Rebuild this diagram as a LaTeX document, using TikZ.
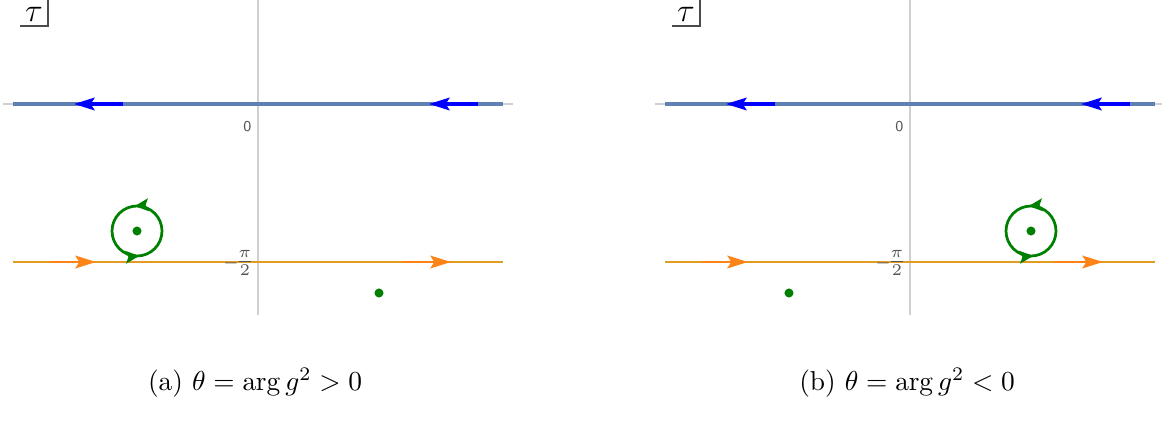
\documentclass[tikz,border=0pt]{standalone}
\usetikzlibrary{arrows.meta,decorations.markings}
\definecolor{axisgray}{HTML}{D0D0D0}
\definecolor{lineblue}{HTML}{5E81B5}
\definecolor{arrowblue}{HTML}{0000FF}
\definecolor{lineorange}{HTML}{E19C24}
\definecolor{arroworange}{HTML}{FF8418}
\definecolor{polegreen}{HTML}{008000}
\definecolor{ticklabel}{HTML}{555555}

\tikzset{
  axisline/.style={draw=axisgray, line width=0.45pt},
  blueline/.style={draw=lineblue, line width=1.1pt},
  orangeline/.style={draw=lineorange, line width=1.0pt},
  bluearrow/.style={draw=arrowblue, line width=1.1pt, -{Stealth[length=7.5pt,width=4.6pt,inset=1.4pt]}},
  orangearrow/.style={draw=arroworange, line width=1.0pt, -{Stealth[length=7.5pt,width=4.6pt,inset=1.4pt]}},
  loopline/.style={draw=polegreen, line width=1.0pt, postaction={decorate},
    decoration={markings,
      mark=at position 0.265 with {\arrow{Stealth[length=5pt,width=4.6pt,inset=1pt]}},
      mark=at position 0.765 with {\arrow{Stealth[length=5pt,width=4.6pt,inset=1pt]}}}},
  pole/.style={circle, fill=polegreen, inner sep=0pt, minimum size=3.3pt},
  tick/.style={text=ticklabel, inner sep=0pt, font=\fontsize{5.5}{6}\sffamily},
}

\begin{document}
\begin{tikzpicture}[x=0.365pt,y=0.365pt]
\useasboundingbox (0,0) rectangle (1162,-429);
\foreach \dx/\s/\p/\cap in {0/1/a/{$\theta=\arg g^2>0$}, 652/-1/b/{$\theta=\arg g^2<0$}}{
\begin{scope}[shift={(\dx,0)}]
  % axes
  \coordinate (vtop-\p) at (258,0);
  \coordinate (vbot-\p) at (258,-315);
  \coordinate (hleft-\p) at (3,-104);
  \coordinate (hright-\p) at (513,-104);
  \draw[axisline] (vtop-\p) -- (vbot-\p);
  \draw[axisline] (hleft-\p) -- (hright-\p);

  % Im tau = 0 line
  \coordinate (bl-\p) at (13,-104);
  \coordinate (br-\p) at (503,-104);
  \draw[blueline] (bl-\p) -- (br-\p);
  \coordinate (ba1s-\p) at (123,-104);
  \coordinate (ba1e-\p) at (74,-104);
  \coordinate (ba2s-\p) at (478,-104);
  \coordinate (ba2e-\p) at (429,-104);
  \draw[bluearrow] (ba1s-\p) -- (ba1e-\p);
  \draw[bluearrow] (ba2s-\p) -- (ba2e-\p);

  % Im tau = -pi/2 line
  \coordinate (ol-\p) at (13,-262);
  \coordinate (or-\p) at (503,-262);
  \draw[orangeline] (ol-\p) -- (or-\p);
  \coordinate (oa1s-\p) at (50,-262);
  \coordinate (oa1e-\p) at (96,-262);
  \coordinate (oa2s-\p) at (402,-262);
  \coordinate (oa2e-\p) at (451,-262);
  \draw[orangearrow] (oa1s-\p) -- (oa1e-\p);
  \draw[orangearrow] (oa2s-\p) -- (oa2e-\p);

  % tick labels
  \node[tick, anchor=north east] (zero-\p) at (252,-121) {0};
  \node[tick, anchor=east, font=\fontsize{9}{10}\sffamily] (halfpi-\p) at (255,-263) {$\scriptstyle-\!\textstyle\frac{\pi}{2}$};

  % poles and loop
  \node[pole] (pin-\p) at ({258-121*\s},-231) {};
  \node[pole] (pout-\p) at ({258+121*\s},-293) {};
  \draw[loopline] (pin-\p) circle[radius=25];

  % plot label
  \node[inner sep=0pt, font=\fontsize{13}{14}\selectfont] (tau-\p) at (34,-14) {$\tau$};
  \coordinate (tauleft-\p) at (20,-26);
  \coordinate (taucorner-\p) at (48,-26);
  \coordinate (tautop-\p) at (48,0);
  \draw[line width=0.5pt, draw=black!70] (tauleft-\p) -- (taucorner-\p) -- (tautop-\p);

  % caption
  \node (cap-\p) at (255,-383) {(\p) \cap};
\end{scope}
}
\end{tikzpicture}
\end{document}
